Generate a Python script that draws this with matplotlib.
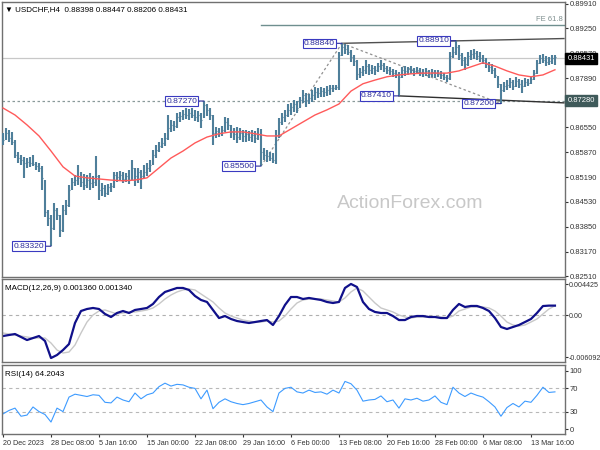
import matplotlib
matplotlib.use("Agg")
import matplotlib.pyplot as plt
import numpy as np

plt.rcParams['font.family'] = ['Liberation Sans', 'DejaVu Sans']

# USDCHF H4, one entry per two H4 bars, pips above 0.8000
high_pips = [640, 654, 648, 643, 621, 589, 580, 575, 572, 575,
             580, 561, 559, 550, 512, 431, 417, 450, 436, 417,
             444, 458, 499, 518, 526, 553, 534, 529, 526, 531,
             523, 578, 526, 504, 499, 502, 504, 534, 534, 537,
             534, 531, 540, 567, 545, 545, 540, 553, 559, 567,
             594, 607, 616, 627, 640, 689, 675, 673, 695, 697,
             703, 708, 705, 708, 703, 700, 695, 727, 719, 708,
             689, 657, 654, 659, 684, 681, 662, 654, 657, 654,
             648, 648, 646, 648, 646, 654, 651, 599, 594, 589,
             586, 648, 681, 695, 703, 719, 722, 730, 727, 738,
             757, 749, 746, 757, 765, 763, 765, 763, 768, 771,
             771, 771, 861, 884, 882, 880, 866, 852, 839, 817,
             822, 839, 828, 825, 822, 831, 839, 831, 822, 820,
             814, 812, 806, 820, 822, 820, 822, 817, 820, 817,
             814, 817, 812, 814, 812, 812, 809, 803, 798, 861,
             874, 891, 880, 858, 847, 861, 866, 869, 863, 861,
             852, 844, 833, 828, 817, 795, 774, 779, 784, 790,
             784, 793, 787, 784, 790, 787, 795, 812, 839, 852,
             855, 850, 847, 852, 852]
low_pips = [608, 621, 616, 608, 572, 559, 553, 518, 545, 548,
            550, 540, 534, 485, 412, 387, 332, 376, 404, 357,
            371, 417, 439, 485, 496, 499, 493, 485, 491, 485,
            491, 496, 458, 469, 466, 472, 480, 491, 507, 510,
            504, 507, 502, 512, 496, 504, 488, 518, 523, 534,
            553, 572, 589, 599, 605, 621, 643, 646, 654, 670,
            675, 678, 675, 681, 673, 670, 654, 681, 686, 675,
            608, 627, 629, 632, 643, 648, 627, 621, 613, 621,
            616, 616, 618, 616, 613, 621, 550, 567, 561, 564,
            559, 556, 627, 662, 670, 684, 689, 697, 695, 708,
            722, 711, 719, 725, 730, 735, 738, 738, 741, 744,
            752, 757, 757, 850, 855, 852, 833, 822, 784, 790,
            795, 801, 798, 801, 798, 806, 812, 806, 801, 798,
            793, 790, 741, 790, 795, 798, 801, 795, 801, 795,
            793, 795, 790, 793, 790, 793, 787, 784, 779, 784,
            844, 852, 839, 822, 812, 822, 839, 842, 839, 833,
            828, 817, 806, 801, 790, 763, 720, 752, 757, 763,
            757, 765, 763, 749, 765, 768, 774, 784, 801, 828,
            831, 822, 825, 828, 825]
close_pips = [621, 640, 627, 616, 580, 572, 567, 559, 561, 559,
              556, 550, 545, 518, 425, 409, 382, 431, 417, 376,
              431, 444, 485, 507, 512, 518, 507, 499, 512, 504,
              507, 523, 485, 491, 477, 493, 496, 526, 521, 526,
              515, 523, 512, 545, 523, 534, 523, 534, 545, 553,
              580, 594, 605, 613, 627, 654, 662, 659, 684, 686,
              692, 689, 695, 689, 684, 689, 675, 716, 703, 689,
              640, 646, 640, 648, 670, 662, 643, 637, 629, 640,
              632, 637, 629, 635, 627, 637, 589, 580, 578, 572,
              567, 635, 670, 684, 689, 703, 711, 719, 708, 730,
              744, 730, 735, 744, 752, 749, 754, 752, 757, 763,
              763, 765, 852, 874, 869, 861, 847, 836, 801, 806,
              812, 822, 812, 817, 812, 822, 825, 817, 812, 809,
              803, 801, 793, 812, 809, 814, 812, 809, 812, 806,
              803, 809, 801, 806, 803, 801, 798, 793, 790, 850,
              861, 874, 852, 839, 828, 850, 855, 858, 850, 844,
              839, 828, 820, 812, 798, 774, 757, 768, 771, 779,
              768, 782, 774, 768, 779, 776, 787, 803, 831, 844,
              839, 833, 836, 844, 847]

# moving average, one value per 8 H4 bars
ma_pips = [708, 689, 662, 632, 591, 548, 523, 518, 515, 512, 510, 512,
           518, 545, 572, 591, 613, 629, 638, 643, 643, 638, 632, 632,
           651, 670, 689, 703, 719, 754, 774, 784, 793, 798, 801, 803,
           803, 803, 809, 820, 831, 822, 809, 798, 793, 798, 812]

# MACD and signal (x 1e-4), RSI, one value per 4 H4 bars
macd_e4 = [-30.5, -29.0, -27.6, -31.9, -36.3, -33.4, -30.5, -37.7, -62.4, -58.0,
           -50.8, -42.1, -11.6, 5.8, 8.7, 10.2, 8.7, 1.5, -2.9, 2.9,
           5.8, 2.9, 7.3, 8.7, 10.2, 16.0, 26.1, 33.4, 36.3, 39.2,
           39.2, 36.3, 27.6, 21.8, 18.9, 7.3, -4.4, -1.5, -5.8, -8.7,
           -10.2, -11.6, -10.2, -8.7, -7.3, -14.5, -1.5, 14.5, 26.1, 26.1,
           23.2, 24.7, 23.2, 21.8, 18.9, 17.4, 18.9, 39.2, 45.0, 40.6,
           18.9, 8.7, 4.4, 2.9, 2.9, -1.5, -7.3, -7.3, -2.9, -1.5,
           -1.5, -2.9, -2.9, -4.4, -4.4, 7.3, 16.0, 11.6, 13.1, 13.1,
           10.2, 5.8, -4.4, -17.4, -20.3, -17.4, -14.5, -10.2, -5.8, 2.9,
           13.0, 13.6, 13.6]
signal_e4 = [-26.1, -27.6, -29.0, -30.5, -31.9, -33.4, -33.4, -33.4, -40.6, -50.8,
             -55.1, -53.7, -43.5, -26.1, -10.2, 0.0, 5.8, 7.3, 4.4, 1.5,
             2.9, 4.4, 4.4, 5.8, 7.3, 10.2, 16.0, 23.2, 29.0, 33.4,
             36.3, 37.7, 36.3, 30.5, 24.7, 18.9, 10.2, 2.9, -1.5, -4.4,
             -7.3, -8.7, -10.2, -10.2, -8.7, -10.2, -8.7, -1.5, 8.7, 17.4,
             21.8, 23.2, 23.2, 23.2, 21.8, 20.3, 18.9, 24.7, 33.4, 39.2,
             34.8, 26.1, 17.4, 10.2, 7.3, 4.4, 0.0, -2.9, -4.4, -2.9,
             -2.9, -2.9, -2.9, -2.9, -4.4, -1.5, 5.8, 8.7, 11.6, 11.6,
             11.6, 10.2, 5.8, -1.5, -10.2, -14.5, -16.0, -14.5, -10.2, -5.8,
             1.5, 8.7, 13.4]
rsi = [26, 32, 36, 22, 24, 38, 30, 25, 12, 36, 30, 55, 60, 58, 56, 59, 58, 46,
       45, 55, 50, 47, 62, 52, 59, 62, 73, 79, 74, 77, 76, 72, 70, 52, 67, 35,
       46, 52, 47, 44, 42, 44, 47, 50, 38, 30, 62, 70, 72, 64, 62, 67, 63, 64,
       60, 67, 62, 82, 78, 67, 48, 50, 51, 57, 47, 50, 36, 52, 50, 53, 48, 50,
       57, 46, 42, 72, 62, 56, 62, 58, 55, 47, 38, 22, 37, 44, 38, 48, 46, 58,
       72, 63, 64]

date_labels = ["20 Dec 2023", "28 Dec 08:00", "5 Jan 16:00", "15 Jan 00:00",
               "22 Jan 08:00", "29 Jan 16:00", "6 Feb 00:00", "13 Feb 08:00",
               "20 Feb 16:00", "28 Feb 00:00", "6 Mar 08:00", "13 Mar 16:00"]
price_ticks = [0.8991, 0.8925, 0.8857, 0.8789, 0.8721, 0.8655,
               0.8587, 0.8519, 0.8453, 0.8385, 0.8317, 0.8251]

# swing labels: (aggregated bar, 'hi' / 'lo')
swings = [(16, 'lo'), (67, 'hi'), (86, 'lo'), (113, 'hi'), (132, 'lo'), (151, 'hi'), (166, 'lo')]
upper_line = ([113, 187], [0.8884, 0.8897])
lower_line = ([132, 187], [0.8741, 0.8722])
fe_level = 0.8933
support_level = 0.8728
last_price = 0.88431


def to_price(p):
    return 0.8 + np.array(p) / 1e4


hi = to_price(high_pips)
lo = to_price(low_pips)
cl = to_price(close_pips)
bars = np.arange(len(cl)) * 2          # H4 bar index
ma = to_price(ma_pips)
macd = np.array(macd_e4) / 1e4
sig = np.array(signal_e4) / 1e4

XLIM = (-0.67, 374.7)
FS = 5.5
frame = '#707070'
bar_col = '#4f7f9a'

fig = plt.figure(figsize=(6, 4.5), dpi=100)
ax = fig.add_axes([2/600, 173/450, 563/600, 275/450])
axm = fig.add_axes([2/600, 88/450, 563/600, 83/450])
axr = fig.add_axes([2/600, 16/450, 563/600, 69/450])

for a in (ax, axm, axr):
    a.set_xlim(*XLIM)
    a.yaxis.tick_right()
    a.tick_params(axis='y', labelsize=FS, length=2, pad=1.5, colors='#333333')
    a.tick_params(axis='x', length=0, labelbottom=False)
    for s in a.spines.values():
        s.set_color(frame)
        s.set_linewidth(1.0)

# ---- price panel
ax.set_ylim(0.82483, 0.89964)
ax.set_yticks(price_ticks)
ax.set_yticklabels([f"{t:.5f}" for t in price_ticks])

ax.axhline(last_price, color='#c8c8c8', lw=0.9, zorder=1)
ax.axhline(support_level, color='#8a9a9a', lw=0.9, ls=(0, (2, 2)), zorder=1)
ax.plot([86 * 2, XLIM[1]], [fe_level, fe_level], color='#6f8f8f', lw=1.0, zorder=1)
ax.text(XLIM[1] - 1.5, fe_level + 0.0006, "FE 61.8", fontsize=FS, color='#7f8f8f',
        ha='right', va='bottom')

ax.vlines(bars, lo, hi, color=bar_col, lw=1.5, zorder=3)
ax.hlines(cl, bars, bars + 0.9, color=bar_col, lw=0.8, zorder=3)
ax.plot(np.arange(len(ma)) * 8, ma, color='#ff5a5a', lw=1.0, zorder=4)

ax.plot(np.array(upper_line[0]) * 2, upper_line[1], color='#505050', lw=1.0, zorder=2)
ax.plot(np.array(lower_line[0]) * 2, lower_line[1], color='#303030', lw=1.0, zorder=2)


def swing_price(j, kind):
    return hi[j] if kind == 'hi' else lo[j]


dash_pairs = [(swings[2], swings[3]), (swings[3], swings[6])]
for (ja, ka), (jb, kb) in dash_pairs:
    ax.plot([ja * 2, jb * 2], [swing_price(ja, ka), swing_price(jb, kb)],
            color='#909090', lw=0.9, ls=(0, (2, 2)), zorder=2)

for j, kind in swings:
    p = swing_price(j, kind)
    ax.annotate(f"{p:.5f}", xy=(j * 2, p), xytext=(-5, 0), textcoords='offset points',
                ha='right', va='center', fontsize=FS + 0.6, color='#2b2b9a', zorder=6,
                bbox=dict(boxstyle='square,pad=0.15', fc='white', ec='#3a3ac0', lw=0.8),
                arrowprops=dict(arrowstyle='-', color='#2b2b9a', lw=0.8,
                                shrinkA=0, shrinkB=0))

tr = ax.get_yaxis_transform()
ax.text(1.004, last_price, f"{last_price:.5f}", transform=tr, fontsize=FS, color='white',
        va='center', ha='left', zorder=10, clip_on=False,
        bbox=dict(boxstyle='square,pad=0.3', fc='black', ec='black'))
ax.text(1.004, support_level, f"{support_level:.5f}", transform=tr, fontsize=FS,
        color='white', va='center', ha='left', zorder=10, clip_on=False,
        bbox=dict(boxstyle='square,pad=0.3', fc='#3f5a5a', ec='#3f5a5a'))

ax.text(0.006, 0.985, "\u25bc USDCHF,H4  0.88398 0.88447 0.88206 0.88431",
        transform=ax.transAxes, fontsize=FS + 0.3, color='black', va='top', ha='left')
fig.text(410/600, 1 - 203/450, "ActionForex.com", fontsize=14, color='#c8c8c8',
         ha='center', va='center')

# ---- MACD panel
axm.set_ylim(-0.006815, 0.00522)
axm.axhline(0, color='#b0b0b0', lw=0.8, ls=(0, (3, 3)))
axm.plot(np.arange(len(sig)) * 4, sig, color='#c8c8c8', lw=1.0)
axm.plot(np.arange(len(macd)) * 4, macd, color='#10108a', lw=1.6)
axm.set_yticks([0.004425, 0.0, -0.006092])
axm.set_yticklabels(["0.004425", "0.00", "-0.006092"])
axm.tick_params(axis='y', labelsize=5.1, pad=1)
axm.text(0.006, 0.93, "MACD(12,26,9) 0.001360 0.001340", transform=axm.transAxes,
         fontsize=FS + 0.3, va='top', ha='left')

# ---- RSI panel
axr.set_ylim(-8.6, 110.3)
for lvl in (70, 30):
    axr.axhline(lvl, color='#b8b8b8', lw=0.8, ls=(0, (3, 3)))
axr.plot(np.arange(len(rsi)) * 4, rsi, color='#3d9bff', lw=0.8)
axr.set_yticks([100, 70, 30, 0])
axr.text(0.006, 0.92, "RSI(14) 64.2043", transform=axr.transAxes,
         fontsize=FS + 0.3, va='top', ha='left')

axr.set_xticks(np.arange(len(date_labels)) * 32)
axr.set_xticklabels(date_labels, ha='left')
axr.tick_params(axis='x', length=2.5, labelbottom=True, labelsize=5.2, pad=1.5,
                colors='#333333')

fig.savefig("out.png", dpi=100, facecolor='white')
